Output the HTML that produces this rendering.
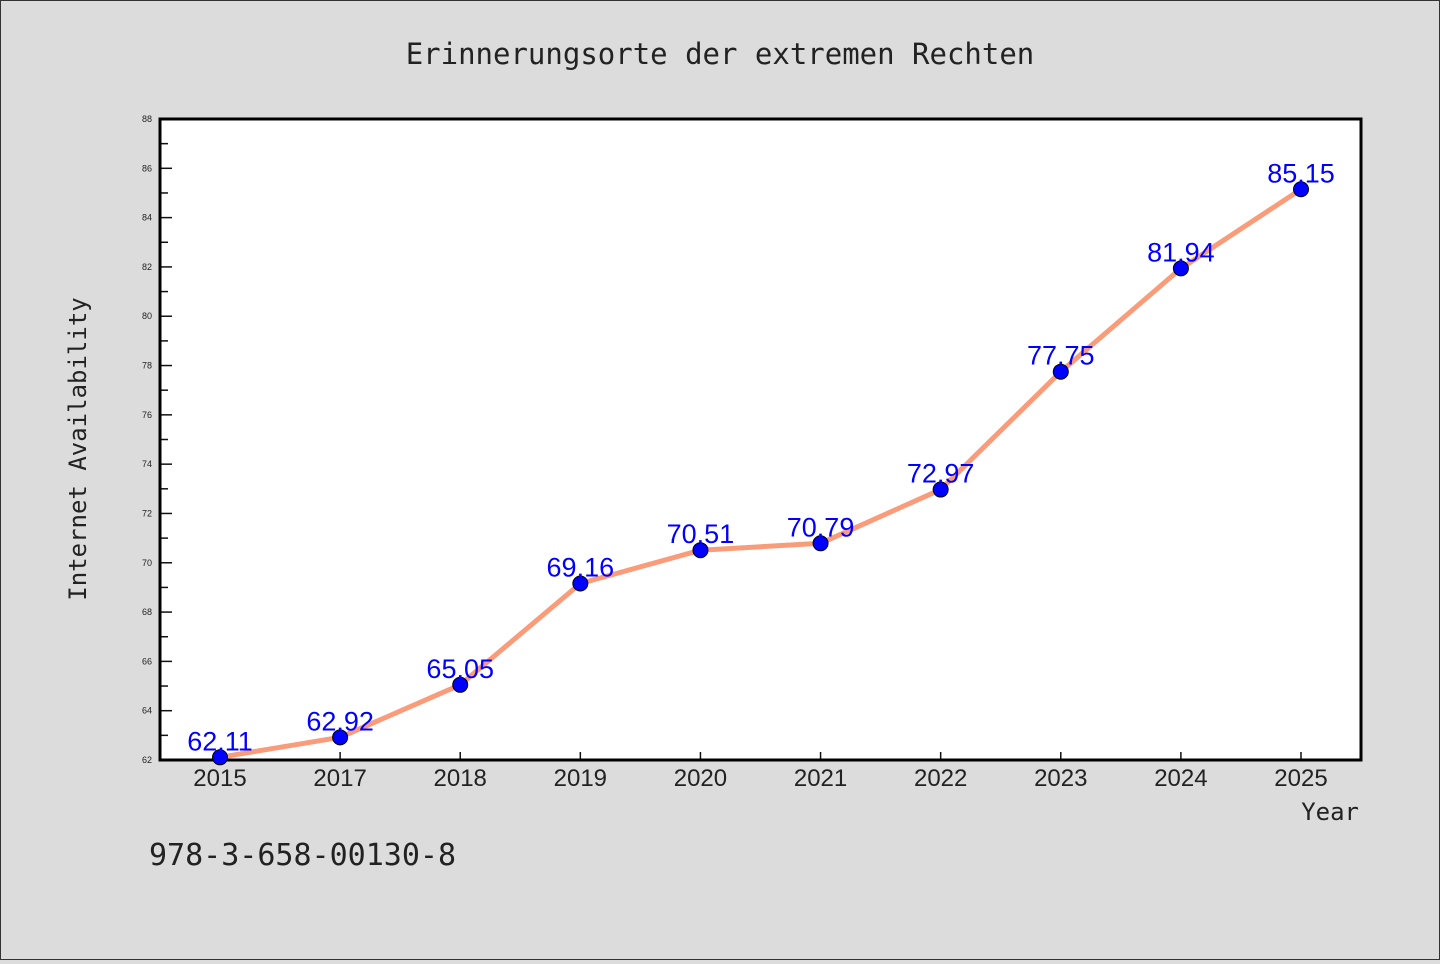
<!DOCTYPE html>
<html><head><meta charset="utf-8"><style>
body{margin:0;background:#dcdcdc;}
#wrap{width:1438px;height:958px;border:1px solid #333;position:relative;background:#dcdcdc;font-family:"Liberation Sans","DejaVu Sans",sans-serif;}
</style></head><body>
<div id="wrap">
<svg id="chart" width="1438" height="958"></svg>
</div>
<script>
const categories=["2015","2017","2018","2019","2020","2021","2022","2023","2024","2025"];
const values=[62.11,62.92,65.05,69.16,70.51,70.79,72.97,77.75,81.94,85.15];
const yTicks=[62,64,66,68,70,72,74,76,78,80,82,84,86,88];
const NS="http://www.w3.org/2000/svg";
const svg=document.getElementById('chart');
const L=159,R=1360,T=118,B=759,yMin=62,yMax=88;
const x=i=>L+60+i*(R-L-120)/(categories.length-1);
const y=v=>B-(v-yMin)/(yMax-yMin)*(B-T);
function mk(t,a,txt){const e=document.createElementNS(NS,t);for(const k in a)e.setAttribute(k,a[k]);if(txt!==undefined)e.textContent=txt;svg.appendChild(e);return e;}
let e;
e=mk('rect',{x:L,y:T,width:R-L,height:B-T,fill:'#fff'});

e=mk('text',{x:719,y:63,'text-anchor':'middle','font-size':29,fill:'#222','font-family':'DejaVu Sans Mono, Liberation Mono, monospace'},'Erinnerungsorte der extremen Rechten');

yTicks.forEach((v,i)=>{
 e=mk('line',{x1:L,x2:L+12,y1:y(v),y2:y(v),stroke:'#111','stroke-width':1.5});
 
 e=mk('text',{x:L-8,y:y(v)+3,'text-anchor':'end','font-size':9,fill:'#222'},String(v));
 
 if(i<yTicks.length-1){
  e=mk('line',{x1:L,x2:L+8,y1:y(v+1),y2:y(v+1),stroke:'#111','stroke-width':1.5});
  
 }
});
categories.forEach((c,i)=>{
 e=mk('line',{x1:x(i),x2:x(i),y1:B,y2:B-8,stroke:'#111','stroke-width':1.5});
 
 e=mk('text',{x:x(i),y:B+26,'text-anchor':'middle','font-size':24,fill:'#222'},c);
 
});
e=mk('rect',{x:L,y:T,width:R-L,height:B-T,fill:'none',stroke:'#000','stroke-width':3});

e=mk('polyline',{points:values.map((v,i)=>x(i)+','+y(v)).join(' '),fill:'none',stroke:'#fa9c7a','stroke-width':5,'stroke-linejoin':'round'});

values.forEach((v,i)=>{
 e=mk('circle',{cx:x(i),cy:y(v),r:7.5,fill:'#0000ff',stroke:'#000','stroke-width':1});
 
 e=mk('text',{x:x(i),y:y(v)-7,'text-anchor':'middle','font-size':27,fill:'#0000ff'},v.toFixed(2));
 
});
e=mk('text',{x:0,y:0,transform:'translate(85,448) rotate(-90)','text-anchor':'middle','font-size':24,fill:'#222','font-family':'DejaVu Sans Mono, Liberation Mono, monospace'},'Internet Availability');

e=mk('text',{x:1358,y:819,'text-anchor':'end','font-size':24,fill:'#222','font-family':'DejaVu Sans Mono, Liberation Mono, monospace'},'Year');

e=mk('text',{x:148,y:864,'font-size':30,fill:'#222','font-family':'DejaVu Sans Mono, Liberation Mono, monospace'},'978-3-658-00130-8');

</script>
</body></html>
